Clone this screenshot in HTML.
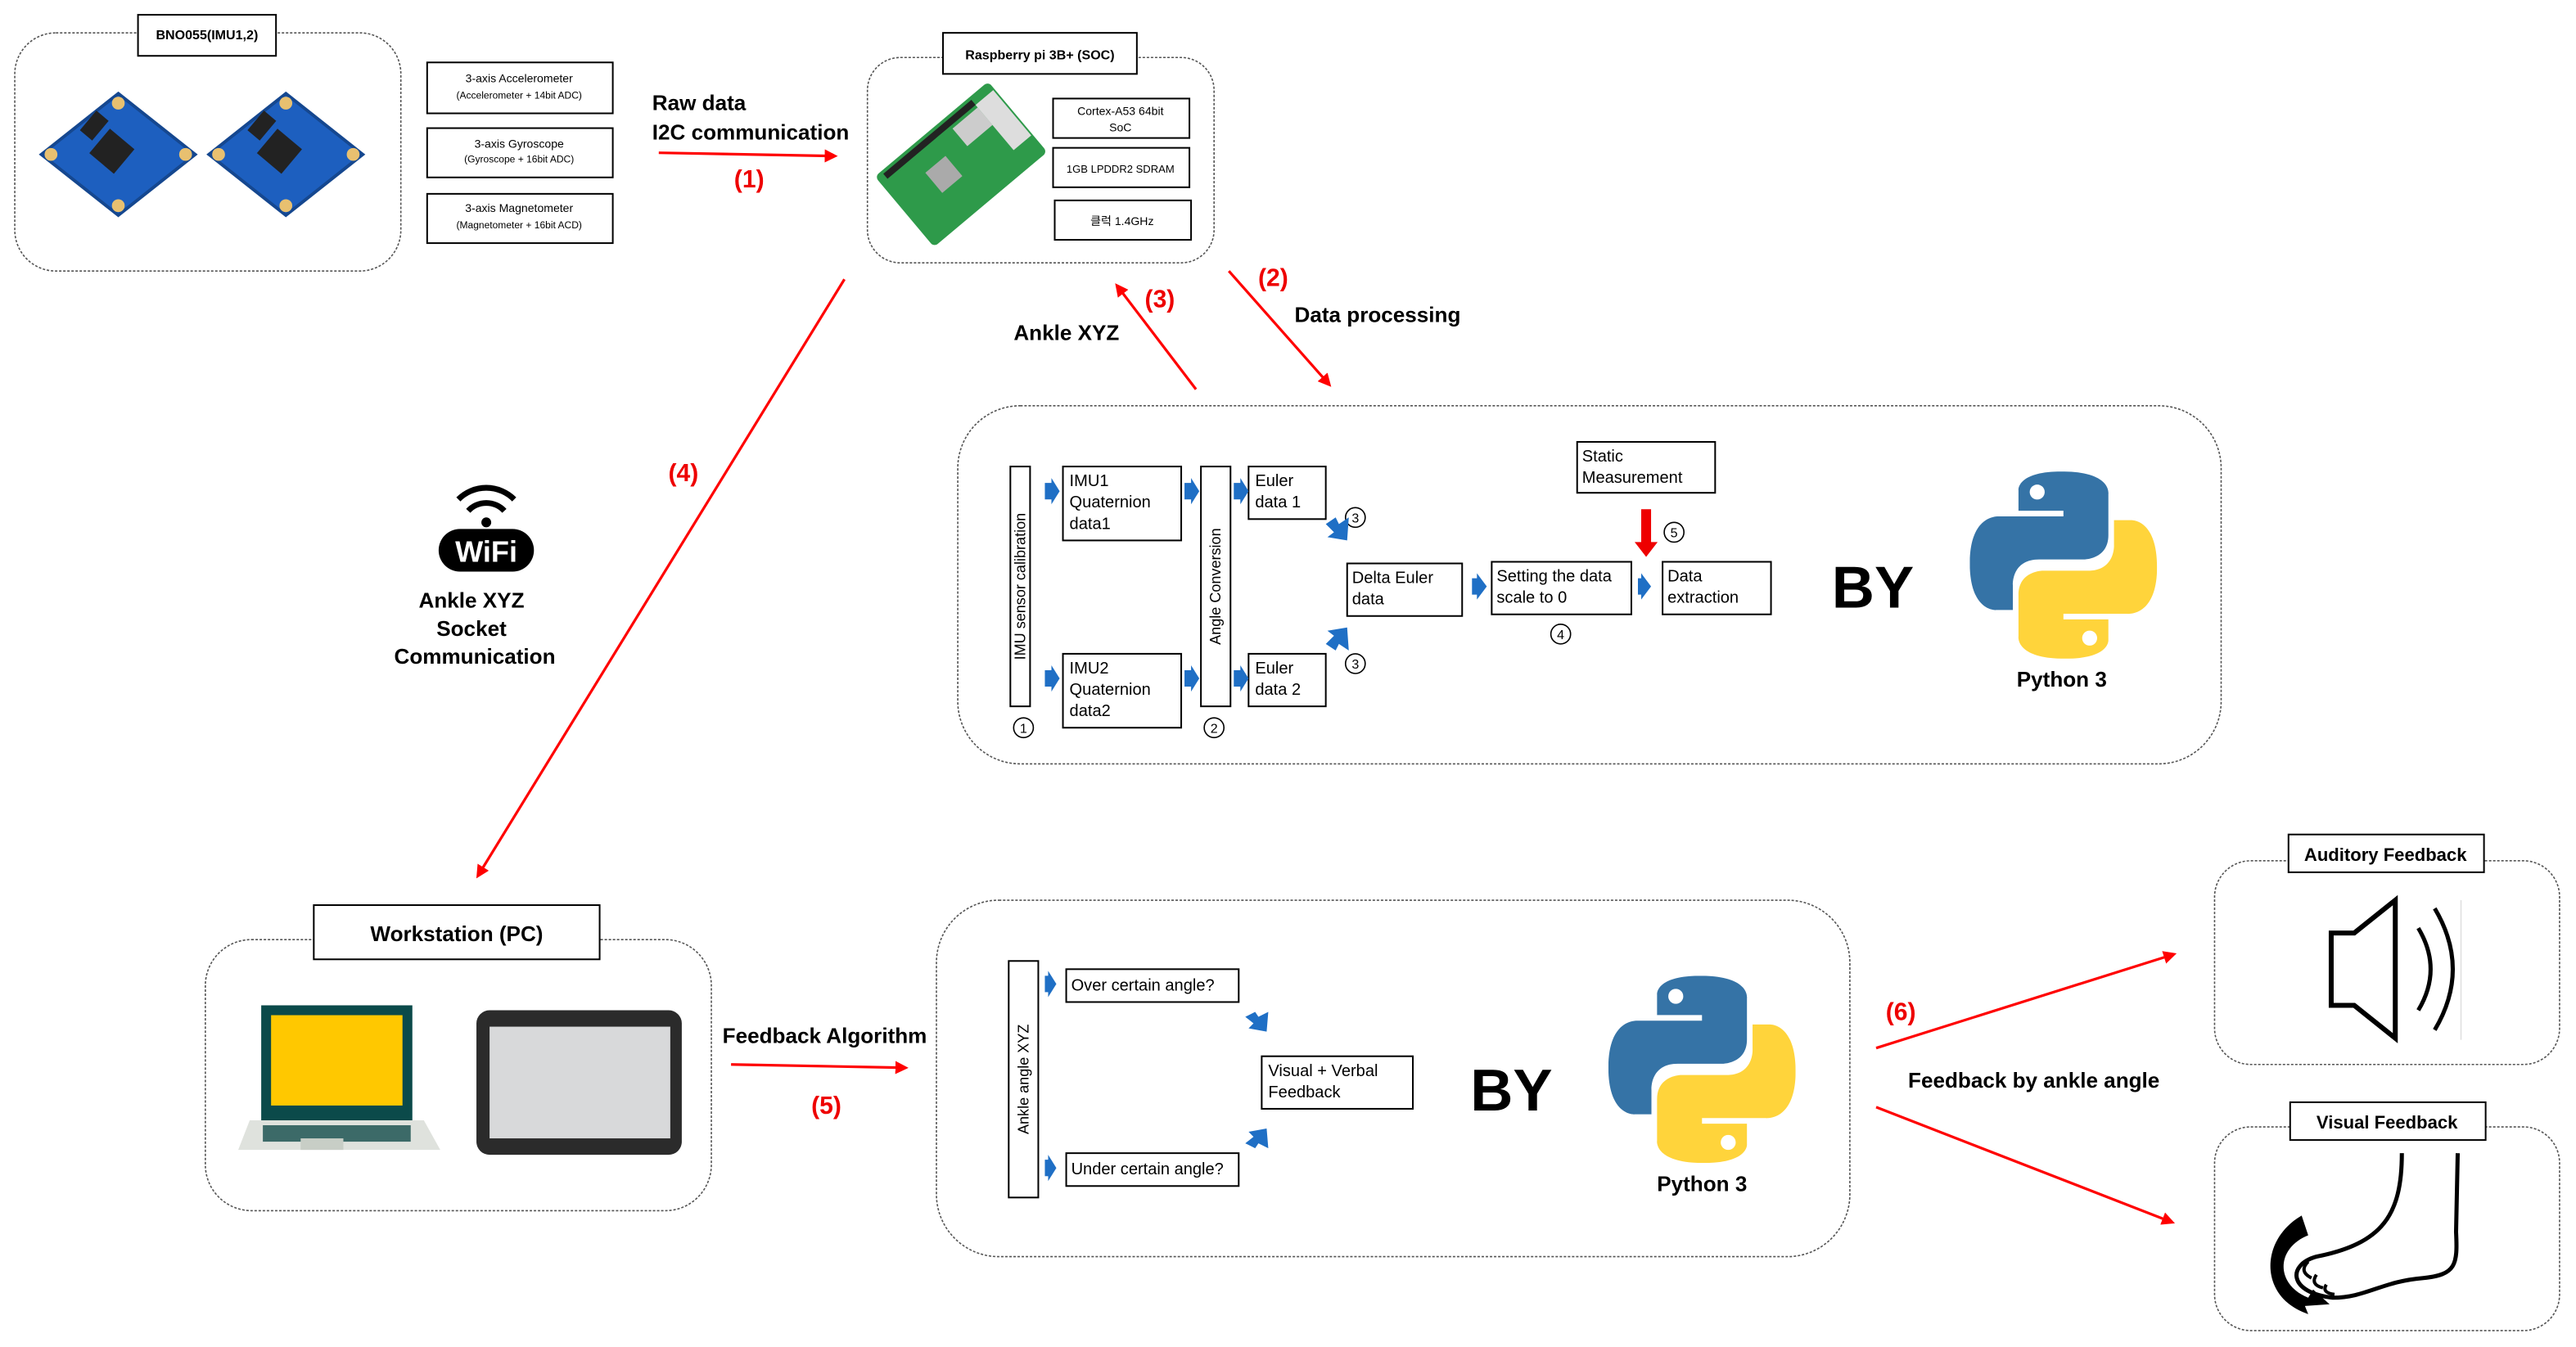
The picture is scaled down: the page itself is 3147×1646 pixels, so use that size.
<!DOCTYPE html>
<html><head><meta charset="utf-8"><style>
html,body{margin:0;padding:0;background:#fff;}
svg{display:block;}
text{font-family:"Liberation Sans","Noto Sans CJK KR",sans-serif;}
</style></head><body>
<svg width="3147" height="1646" viewBox="0 0 1568 820" preserveAspectRatio="none" xmlns="http://www.w3.org/2000/svg">
<defs>
<marker id="ra" markerWidth="8" markerHeight="8" refX="6" refY="4" orient="auto" markerUnits="userSpaceOnUse"><path d="M0,0 L8,4 L0,8 Z" fill="#f00"/></marker>
<symbol id="py" viewBox="0 0 100 100">
<path d="M49,0 C25,0 26,10 26,10 L26,21 L50,21 L50,24 L16,24 C16,24 0,22 0,49 C0,75 14,74 14,74 L23,74 L23,61 C23,61 22,47 37,47 L61,47 C61,47 74,47 74,34 L74,12 C74,12 76,0 49,0 Z" fill="#3573a6"/>
<circle cx="36" cy="11" r="4" fill="#fff"/>
<g transform="rotate(180 50 50)"><path d="M49,0 C25,0 26,10 26,10 L26,21 L50,21 L50,24 L16,24 C16,24 0,22 0,49 C0,75 14,74 14,74 L23,74 L23,61 C23,61 22,47 37,47 L61,47 C61,47 74,47 74,34 L74,12 C74,12 76,0 49,0 Z" fill="#ffd43b"/><circle cx="36" cy="11" r="4" fill="#fff"/></g>
</symbol>
<symbol id="imu" viewBox="0 0 100 80">
<path d="M50,2 L98,40 L50,78 L2,40 Z" fill="#1d5fbf" stroke="#15478f" stroke-width="2"/>
<rect x="36" y="28" width="20" height="20" fill="#222" transform="rotate(40 46 38)"/>
<rect x="30" y="14" width="10" height="16" fill="#222" transform="rotate(40 35 22)"/>
<circle cx="50" cy="8" r="4" fill="#e8c070"/><circle cx="92" cy="40" r="4" fill="#e8c070"/><circle cx="50" cy="72" r="4" fill="#e8c070"/><circle cx="8" cy="40" r="4" fill="#e8c070"/>
</symbol>
</defs>
<g fill="none" stroke="#555" stroke-width="0.8" stroke-dasharray="1.5,1">
<rect x="9" y="20" width="235" height="145" rx="25"/>
<rect x="528" y="35" width="211" height="125" rx="20"/>
<rect x="583" y="247" width="769" height="218" rx="38"/>
<rect x="125" y="572" width="308" height="165" rx="28"/>
<rect x="570" y="548" width="556" height="217" rx="38"/>
<rect x="1348" y="524" width="210" height="124" rx="22"/>
<rect x="1348" y="686" width="210" height="124" rx="22"/>
</g>
<g fill="#fff" stroke="#000" stroke-width="1">
<rect x="84" y="9" width="84" height="25"/>
<rect x="260" y="38" width="113" height="31"/><rect x="260" y="78" width="113" height="30"/><rect x="260" y="118" width="113" height="30"/>
<rect x="574" y="20" width="118" height="25"/>
<rect x="641" y="60" width="83" height="24"/><rect x="641" y="90" width="83" height="24"/><rect x="642" y="122" width="83" height="24"/>
<rect x="615" y="284" width="12" height="146"/><rect x="647" y="284" width="72" height="45"/><rect x="647" y="398" width="72" height="45"/>
<rect x="731" y="284" width="18" height="146"/><rect x="760" y="284" width="47" height="32"/><rect x="760" y="398" width="47" height="32"/>
<rect x="820" y="343" width="70" height="32"/><rect x="908" y="342" width="85" height="32"/><rect x="960" y="269" width="84" height="31"/><rect x="1012" y="342" width="66" height="32"/>
<rect x="191" y="551" width="174" height="33"/>
<rect x="614" y="585" width="18" height="144"/><rect x="649" y="590" width="105" height="20"/><rect x="649" y="702" width="105" height="20"/><rect x="768" y="643" width="92" height="32"/>
<rect x="1393" y="508" width="119" height="23"/><rect x="1394" y="671" width="119" height="23"/>
</g>
<g fill="#000" font-size="7" text-anchor="middle">
<text x="126" y="24" font-size="8" font-weight="bold">BNO055(IMU1,2)</text>
<text x="316" y="50">3-axis Accelerometer</text><text x="316" y="60" font-size="6">(Accelerometer + 14bit ADC)</text>
<text x="316" y="90">3-axis Gyroscope</text><text x="316" y="99" font-size="6">(Gyroscope + 16bit ADC)</text>
<text x="316" y="129">3-axis Magnetometer</text><text x="316" y="139" font-size="6">(Magnetometer + 16bit ACD)</text>
<text x="633" y="36" font-size="8" font-weight="bold">Raspberry pi 3B+ (SOC)</text>
<text x="682" y="70">Cortex-A53 64bit</text><text x="682" y="80">SoC</text>
<text x="682" y="105" font-size="6.5">1GB LPDDR2 SDRAM</text>
<text x="683" y="137">클럭 1.4GHz</text>
</g>
<g fill="#000" font-size="13" font-weight="bold">
<text x="397" y="67">Raw data</text><text x="397" y="85">I2C communication</text>
<text x="617" y="207">Ankle XYZ</text><text x="788" y="196">Data processing</text>
<text x="287" y="370" text-anchor="middle">Ankle XYZ</text><text x="287" y="387" text-anchor="middle">Socket</text><text x="289" y="404" text-anchor="middle">Communication</text>
<text x="1255" y="418" text-anchor="middle">Python 3</text>
<text x="278" y="573" text-anchor="middle">Workstation (PC)</text>
<text x="502" y="635" text-anchor="middle">Feedback Algorithm</text>
<text x="1036" y="725" text-anchor="middle">Python 3</text>
<text x="1238" y="662" text-anchor="middle">Feedback by ankle angle</text>
<text x="1452" y="524" text-anchor="middle" font-size="11">Auditory Feedback</text>
<text x="1453" y="687" text-anchor="middle" font-size="11">Visual Feedback</text>
<text x="1140" y="370" text-anchor="middle" font-size="36" font-family="Liberation Sans">BY</text>
<text x="920" y="676" text-anchor="middle" font-size="36">BY</text>
</g>
<g fill="#e00" font-size="15" font-weight="bold" text-anchor="middle">
<text x="456" y="114">(1)</text><text x="775" y="174">(2)</text><text x="706" y="187">(3)</text><text x="416" y="293">(4)</text><text x="503" y="678">(5)</text><text x="1157" y="621">(6)</text>
</g>
<g stroke="#f00" stroke-width="1.6" marker-end="url(#ra)">
<line x1="401" y1="93" x2="508" y2="95"/>
<line x1="514" y1="170" x2="291" y2="533"/>
<line x1="728" y1="237" x2="680" y2="174"/>
<line x1="748" y1="165" x2="809" y2="234"/>
<line x1="445" y1="648" x2="551" y2="650"/>
<line x1="1142" y1="638" x2="1323" y2="581"/>
<line x1="1142" y1="674" x2="1322" y2="744"/>
</g>
<!-- processing text -->
<g fill="#000" font-size="10">
<text x="651" y="296">IMU1</text><text x="651" y="309">Quaternion</text><text x="651" y="322">data1</text>
<text x="651" y="410">IMU2</text><text x="651" y="423">Quaternion</text><text x="651" y="436">data2</text>
<text x="764" y="296">Euler</text><text x="764" y="309">data 1</text>
<text x="764" y="410">Euler</text><text x="764" y="423">data 2</text>
<text x="823" y="355">Delta Euler</text><text x="823" y="368">data</text>
<text x="911" y="354">Setting the data</text><text x="911" y="367">scale to 0</text>
<text x="963" y="281">Static</text><text x="963" y="294">Measurement</text>
<text x="1015" y="354">Data</text><text x="1015" y="367">extraction</text>
<text x="652" y="603">Over certain angle?</text><text x="652" y="715">Under certain angle?</text>
<text x="772" y="655">Visual + Verbal</text><text x="772" y="668">Feedback</text>
<text transform="translate(624 357) rotate(-90)" text-anchor="middle" font-size="9">IMU sensor calibration</text>
<text transform="translate(743 357) rotate(-90)" text-anchor="middle" font-size="9">Angle Conversion</text>
<text transform="translate(626 657) rotate(-90)" text-anchor="middle" font-size="9">Ankle angle XYZ</text>
</g>
<g fill="#fff" stroke="#000" stroke-width="0.8">
<circle cx="623" cy="443" r="6"/><circle cx="739" cy="443" r="6"/><circle cx="825" cy="315" r="6"/><circle cx="825" cy="404" r="6"/><circle cx="950" cy="386" r="6"/><circle cx="1019" cy="324" r="6"/>
</g>
<g fill="#000" font-size="8" text-anchor="middle">
<text x="623" y="446">1</text><text x="739" y="446">2</text><text x="825" y="318">3</text><text x="825" y="407">3</text><text x="950" y="389">4</text><text x="1019" y="327">5</text>
</g>
<!-- blue arrows -->
<g fill="#1f6fc5">
<path d="M636,294 l4,0 l0,-3 l5,8 l-5,8 l0,-3 l-4,0z"/><path d="M636,408 l4,0 l0,-3 l5,8 l-5,8 l0,-3 l-4,0z"/>
<path d="M721,294 l4,0 l0,-3 l5,8 l-5,8 l0,-3 l-4,0z"/><path d="M721,408 l4,0 l0,-3 l5,8 l-5,8 l0,-3 l-4,0z"/>
<path d="M751,294 l4,0 l0,-3 l5,8 l-5,8 l0,-3 l-4,0z"/><path d="M751,408 l4,0 l0,-3 l5,8 l-5,8 l0,-3 l-4,0z"/>
<path d="M896,352 l3,0 l0,-3 l6,8 l-6,8 l0,-3 l-3,0z"/><path d="M997,352 l2,0 l0,-3 l6,8 l-6,8 l0,-3 l-2,0z"/>
<path d="M636,594 l2,0 l0,-3 l5,8 l-5,8 l0,-3 l-2,0z"/><path d="M636,706 l2,0 l0,-3 l5,8 l-5,8 l0,-3 l-2,0z"/>
<path d="M807,319 l6,-4 l2,4 l6,-4 l-1,14 l-12,-2 l4,-3z"/><path d="M807,392 l6,4 l2,-4 l6,4 l-1,-14 l-12,2 l4,3z"/>
<path d="M758,619 l6,-3 l2,3 l6,-3 l-1,12 l-11,-2 l3,-3z"/><path d="M758,696 l6,3 l2,-3 l6,3 l-1,-12 l-11,2 l3,3z"/>
</g>
<path d="M999,310 l6,0 l0,20 l4,0 l-7,9 l-7,-9 l4,0z" fill="#e00"/>
<!-- python logos -->
<use href="#py" x="1199" y="287" width="114" height="114"/>
<use href="#py" x="979" y="594" width="114" height="114"/>
<!-- IMU boards -->
<use href="#imu" x="22" y="55" width="100" height="78"/>
<use href="#imu" x="124" y="55" width="100" height="78"/>
<!-- RPi board -->
<g transform="translate(585 100) rotate(-40)">
<rect x="-45" y="-28" width="90" height="56" rx="3" fill="#2e9a4a"/>
<rect x="-20" y="-10" width="16" height="16" fill="#aaa"/><rect x="10" y="-20" width="20" height="14" fill="#ccc"/>
<rect x="-40" y="-26" width="70" height="4" fill="#222"/>
<rect x="30" y="-22" width="14" height="36" fill="#ddd"/>
</g>
<!-- wifi -->
<g fill="none" stroke="#000" stroke-width="3.5">
<path d="M279,304 a24,24 0 0 1 34,0"/><path d="M285,311 a15,15 0 0 1 22,0"/>
</g>
<circle cx="296" cy="318" r="3" fill="#000"/>
<rect x="267" y="322" width="58" height="26" rx="13" fill="#000"/>
<text x="296" y="342" text-anchor="middle" fill="#fff" font-size="18" font-weight="bold">WiFi</text>
<!-- laptop -->
<rect x="159" y="612" width="92" height="70" fill="#0b4a4a"/>
<rect x="165" y="618" width="80" height="55" fill="#ffc800"/>
<path d="M152,682 L258,682 L268,700 L145,700 Z" fill="#dfe2dd"/>
<rect x="160" y="685" width="90" height="10" fill="#3c6a68"/>
<rect x="183" y="693" width="26" height="7" fill="#c8cec6"/>
<!-- tablet -->
<rect x="290" y="615" width="125" height="88" rx="8" fill="#2b2b2b"/>
<rect x="298" y="625" width="110" height="68" fill="#d8d9da"/>
<!-- speaker -->
<path d="M1419,568 L1433,568 L1458,548 L1458,632 L1433,612 L1419,612 Z" fill="none" stroke="#000" stroke-width="3"/>
<path d="M1472,565 q15,25 0,50" fill="none" stroke="#000" stroke-width="2.5"/>
<path d="M1482,553 q22,37 0,74" fill="none" stroke="#000" stroke-width="2.5"/>
<line x1="1498" y1="548" x2="1498" y2="633" stroke="#ddd" stroke-width="0.7"/>
<!-- foot -->
<path d="M1462,702 C1462,740 1450,757 1410,765 C1392,770 1393,787 1420,790 C1440,790 1450,780 1475,778 C1495,776 1496,770 1495,750 L1496,702" fill="none" stroke="#000" stroke-width="2.5"/>
<path d="M1405,768 q-6,6 2,10 M1410,776 q-4,6 4,8 M1416,782 q-3,5 5,6" fill="none" stroke="#000" stroke-width="2"/>
<path d="M1401,740 C1375,755 1375,790 1405,800 L1403,795 L1418,794 L1408,785 L1405,790 C1385,782 1385,760 1405,752 Z" fill="#000"/>
</svg>
</body></html>
